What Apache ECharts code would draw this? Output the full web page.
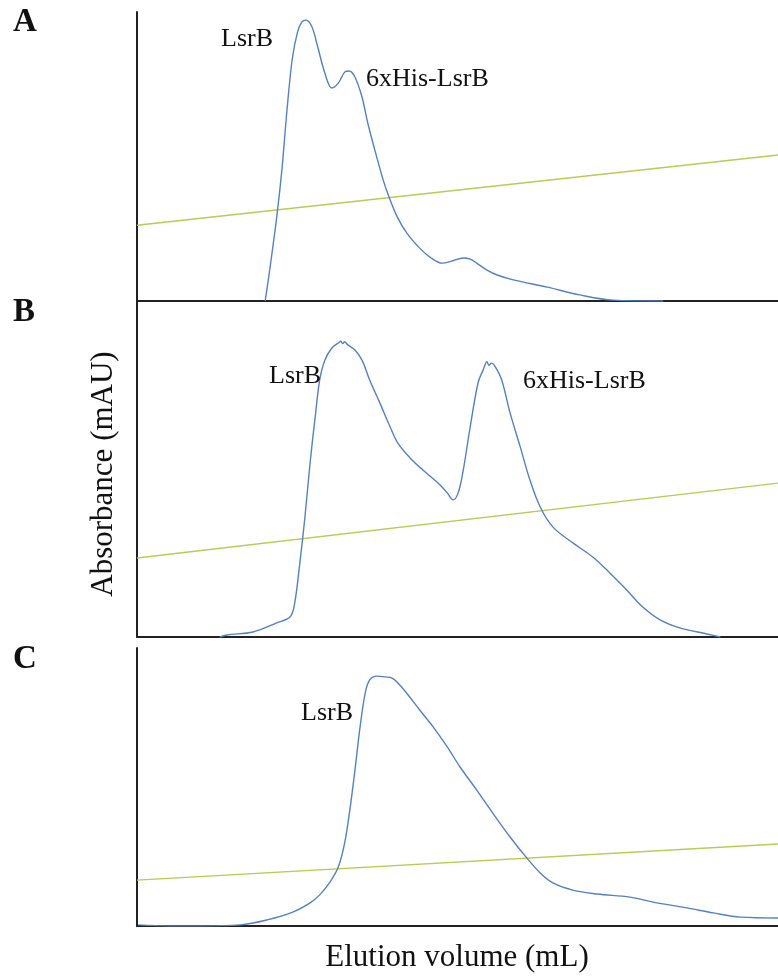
<!DOCTYPE html>
<html>
<head>
<meta charset="utf-8">
<script src="https://cdn.jsdelivr.net/npm/echarts@6/dist/echarts.min.js"></script>
<style>
  html, body { margin: 0; padding: 0; background: #fff; }
  #chart { width: 778px; height: 976px; }
</style>
</head>
<body>
<div id="chart"></div>
<script>
// Elution profiles, x = relative elution volume (0-100), y = relative absorbance (0-100)
const profileA = [
  [20.0, 0], [20.7, 10.7], [21.8, 29.1], [22.6, 45.3], [23.4, 66.1], [24.2, 83.4],
  [25.0, 92.7], [25.7, 96.5], [26.4, 97.2], [27.3, 94.8], [28.2, 87.9], [29.3, 78.9],
  [30.4, 73.7], [31.4, 75.4], [32.4, 79.2], [33.1, 79.6], [34.0, 77.5], [35.1, 70.6],
  [36.0, 61.6], [37.4, 49.8], [38.4, 41.9], [39.2, 36.7], [40.6, 29.1], [42.1, 23.5],
  [44.1, 18.3], [45.7, 15.2], [47.6, 13.1], [49.1, 13.8], [50.9, 14.9], [52.0, 14.5],
  [53.0, 13.1], [54.6, 10.7], [56.2, 9.0], [58.7, 7.3], [64.0, 4.8], [69.1, 2.1],
  [74.3, 0.3], [82.1, 0]
];
const gradientA = [[0, 26.2], [100, 50.5]];

const profileB = [
  [12.9, 0], [14.0, 0.6], [18.1, 1.5], [21.8, 4.2], [23.9, 6.0], [24.6, 10.1],
  [25.4, 22.0], [26.2, 35.7], [27.0, 51.8], [27.8, 65.5], [28.5, 76.5], [29.3, 82.4],
  [30.4, 86.0], [31.4, 87.5], [31.8, 88.0], [32.1, 87.3], [32.4, 87.9], [32.8, 87.1],
  [34.0, 85.4], [35.1, 82.4], [36.3, 76.5], [37.9, 69.6], [39.5, 62.5], [40.7, 57.7],
  [42.6, 53.3], [44.6, 49.7], [46.8, 46.1], [48.4, 42.9], [49.3, 40.8], [50.1, 42.9],
  [50.9, 49.7], [51.9, 61.6], [53.2, 75.6], [54.0, 79.5], [54.6, 81.9], [54.9, 80.9],
  [55.3, 81.5], [55.9, 80.4], [56.9, 76.5], [58.2, 66.7], [59.8, 56.5], [61.3, 46.7],
  [62.9, 38.7], [64.9, 32.7], [68.0, 28.0], [71.1, 23.8], [73.8, 19.0], [76.4, 14.0],
  [78.9, 8.9], [81.6, 5.1], [84.7, 2.7], [88.9, 0.9], [91.0, 0]
];
const gradientB = [[0, 23.5], [100, 45.8]];

const profileC = [
  [0.2, 0.4], [5.1, 0], [9.8, 0], [16.1, 0.4], [20.3, 2.2], [24.3, 5.0], [27.0, 8.3],
  [28.5, 11.2], [30.1, 15.8], [31.4, 21.2], [32.4, 29.9], [33.2, 41.7], [34.0, 56.1],
  [34.8, 71.6], [35.6, 83.8], [36.3, 88.5], [37.4, 89.9], [38.7, 89.6], [39.8, 89.2],
  [40.7, 87.4], [42.3, 83.1], [44.1, 77.7], [46.2, 71.6], [48.4, 64.4], [50.4, 57.2],
  [53.0, 48.9], [55.5, 40.6], [58.2, 32.0], [60.8, 24.5], [62.9, 19.1], [64.9, 15.5],
  [68.0, 12.9], [71.8, 11.5], [76.9, 10.4], [80.5, 8.6], [85.8, 6.5], [89.9, 4.7],
  [94.1, 3.2], [100, 2.9]
];
const gradientC = [[0, 16.5], [100, 29.5]];

const panelLetters = ['A', 'B', 'C'];
const xTitle = 'Elution volume (mL)';
const yTitle = 'Absorbance (mAU)';

const SERIF = '"Liberation Serif", "Times New Roman", serif';
const BLUE = '#5580c4';
const GREEN = '#b8cc52';
const AXIS = '#222222';

const grids = [
  { left: 137, right: 0, top: 12, height: 289 },
  { left: 137, right: 0, top: 301, height: 336 },
  { left: 137, right: 0, top: 648, height: 278 }
];

const axisLineStyle = { show: true, onZero: false, lineStyle: { color: AXIS, width: 2 } };
const xAxes = grids.map((g, i) => ({
  type: 'value', gridIndex: i, min: 0, max: 100,
  axisLine: axisLineStyle, axisTick: { show: false },
  axisLabel: { show: false }, splitLine: { show: false }
}));
const yAxes = grids.map((g, i) => ({
  type: 'value', gridIndex: i, min: 0, max: 100,
  axisLine: axisLineStyle, axisTick: { show: false },
  axisLabel: { show: false }, splitLine: { show: false }
}));

function trace(data, i, color) {
  return {
    type: 'line', xAxisIndex: i, yAxisIndex: i, data: data,
    showSymbol: false, smooth: 0.35, z: 3,
    lineStyle: { color: color, width: 1.4 }
  };
}

const series = [
  trace(gradientA, 0, GREEN), trace(profileA, 0, BLUE),
  trace(gradientB, 1, GREEN), trace(profileB, 1, BLUE),
  trace(gradientC, 2, GREEN), trace(profileC, 2, BLUE)
];

function label(text, x, y, size, bold, align) {
  return {
    type: 'text', x: x, y: y, z: 10,
    style: {
      text: text, fill: '#111',
      font: (bold ? 'bold ' : '') + size + 'px ' + SERIF,
      align: align || 'left', verticalAlign: 'middle'
    }
  };
}

const graphics = [
  label(panelLetters[0], 13, 22, 33, true),
  label(panelLetters[1], 13, 312, 33, true),
  label(panelLetters[2], 13, 659, 33, true),
  label('LsrB', 221, 39, 26, false),
  label('6xHis-LsrB', 366, 79, 26, false),
  label('LsrB', 269, 376, 26, false),
  label('6xHis-LsrB', 523, 381, 26, false),
  label('LsrB', 301, 713, 26, false),
  label(xTitle, 457, 958, 31, false, 'center'),
  {
    type: 'text', x: 104, y: 474, rotation: Math.PI / 2, z: 10,
    style: {
      text: yTitle, fill: '#111', font: '31px ' + SERIF,
      align: 'center', verticalAlign: 'middle'
    }
  }
];

const chart = echarts.init(document.getElementById('chart'), null, { renderer: 'canvas' });
chart.setOption({
  animation: false,
  backgroundColor: '#ffffff',
  grid: grids,
  xAxis: xAxes,
  yAxis: yAxes,
  series: series,
  graphic: graphics
});
</script>
</body>
</html>
